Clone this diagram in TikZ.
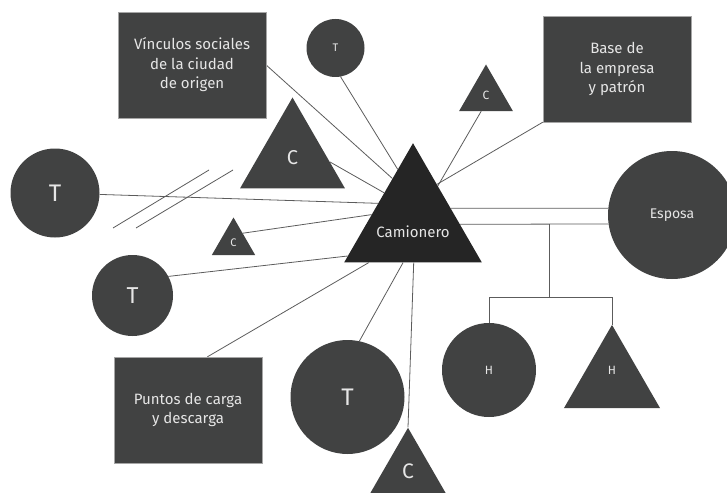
\documentclass[tikz,border=0pt]{standalone}
\usepackage{fontspec}
\setmainfont{Fira Sans}
\usetikzlibrary{calc, positioning, shapes.geometric, backgrounds}
\definecolor{shapegray}{HTML}{414242}
\definecolor{herodark}{HTML}{252525}
\definecolor{tiegray}{HTML}{5C5C5C}
\definecolor{labelwhite}{HTML}{E6E6E6}

\begin{document}
\begin{tikzpicture}[x=1pt, y=-1pt,
    tie/.style={draw=tiegray, line width=0.8pt},
    placebox/.style={rectangle, fill=shapegray, draw=gray!70, line width=0.3pt, minimum width=148pt, minimum height=106pt, text=labelwhite, align=center, font=\fontsize{15}{19.5}\selectfont},
    male/.style={regular polygon, regular polygon sides=3, fill=shapegray, inner sep=0pt, text=labelwhite},
    female/.style={circle, fill=shapegray, inner sep=0pt, text=labelwhite}]
    \useasboundingbox (0,0) rectangle (727,492);

    % Camionero in the middle
    \node[male, fill=herodark, minimum size=159pt, label={[text=labelwhite, yshift=-9pt, font=\fontsize{15}{18}\selectfont]center:Camionero}] (cam) at (413,222.7) {};

    % Places
    \node[placebox] (vinc) at (192,65) {Vínculos sociales\\de la ciudad\\de origen};
    \node[placebox] (base) at (617,69) {Base de\\la empresa\\y patrón};
    \node[placebox] (punt) at (188,410) {Puntos de carga\\y descarga};

    % Trabajadores (T)
    \node[female, minimum size=58pt, font=\fontsize{11}{13}\selectfont] (ttop) at (335.5,48) {T};
    \node[female, minimum size=89pt, font=\fontsize{24}{28}\selectfont] (tleft) at (55,193) {T};
    \node[female, minimum size=81pt, font=\fontsize{23}{27}\selectfont] (tlow) at (132.5,295.5) {T};
    \node[female, minimum size=114pt, font=\fontsize{24}{28}\selectfont] (tbot) at (347.5,397) {T};

    % Compañeros (C)
    \node[male, minimum size=121pt, font=\fontsize{20}{24}\selectfont] (cbig) at (292.5,158) {C};
    \node[male, minimum size=50pt, font=\fontsize{11}{13}\selectfont] (csmall) at (233.5,242.5) {C};
    \node[male, minimum size=62pt, font=\fontsize{12}{14}\selectfont] (cup) at (486,95.5) {C};
    \node[male, minimum size=87pt, font=\fontsize{21}{25}\selectfont] (cbot) at (408,471.3) {C};

    % Family
    \node[female, minimum size=128pt, font=\fontsize{14}{17}\selectfont] (esp) at (672,215) {Esposa};
    \node[female, minimum size=94pt, font=\fontsize{12}{14}\selectfont] (hc) at (489,370) {H};
    \node[male, minimum size=111pt, label={[text=labelwhite, yshift=10pt, font=\fontsize{12}{14}\selectfont]center:H}] (ht) at (612,380.4) {};

    % Ties to the Camionero
    \begin{scope}[on background layer]
        \draw[tie] (vinc.east) -- (cam.115);
        \draw[tie] (ttop.-80) -- (cam.106);
        \draw[tie] (cbig.-6) -- (cam.134);
        \draw[tie] (tleft) -- (cam.151);
        \draw[tie] (csmall.45) -- (cam.169);
        \draw[tie] (tlow.28) -- (cam.207);
        \draw[tie] (punt.70) -- (cam.222);
        \draw[tie] (tbot.78) -- (cam.256);
        \draw[tie] (cbot.north) -- (cam.271);
        \draw[tie] (cup.253) -- (cam.56);
        \draw[tie] (base.south west) -- (cam.58);
        \draw[tie] (cam.21) -- (esp.174);
        \draw[tie] (cam.358) -- (esp.188);
    \end{scope}

    % Broken tie
    \draw[tie] (113,228) -- (209,170);
    \draw[tie] (136,228) -- (233,170);

    % Children
    \coordinate (fork) at ($(cam.358)!0.6!(esp.188)$);
    \coordinate (bar) at ($(fork)+(0,73)$);
    \draw[tie] (fork) -- (bar);
    \draw[tie] (hc.north) |- (bar) -| (ht.north);
\end{tikzpicture}
\end{document}
